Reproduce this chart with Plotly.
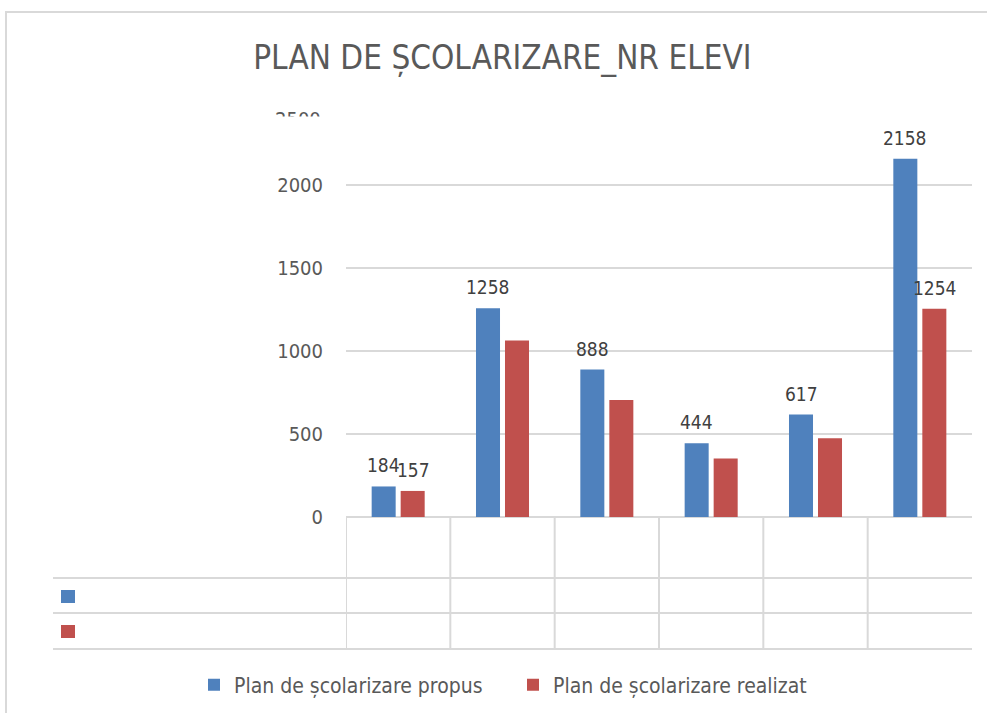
import plotly.graph_objects as go

# ---- data ----
categories = ["", "", "", "", "", ""]          # category names are blank in the original
propus = [184, 1258, 888, 444, 617, 2158]        # Plan de școlarizare propus
realizat = [157, 1064, 705, 352, 474, 1254]      # Plan de școlarizare realizat
realizat_labelled = [True, False, False, False, False, True]
y_ticks = [0, 500, 1000, 1500, 2000, 2500]
y_ticktext = ["0", "500", "1000", "1500", "2000", ""]

title_text = "PLAN DE ȘCOLARIZARE_NR ELEVI"
name_propus = "Plan de școlarizare propus"
name_realizat = "Plan de școlarizare realizat"

BLUE = "#4f81bd"
RED = "#c0504d"
GRID = "#d9d9d9"
TXT = "#595959"
LBL = "#404040"
FONT = "DejaVu Sans Condensed, Liberation Sans Narrow, sans-serif"

W, H = 987, 713
ML, MR, MT, MB = 346, 15, 102, 196
PW = W - ML - MR
PH = H - MT - MB


def px_x(px):
    return (px - ML) / PW


def px_y(py):
    return (H - MB - py) / PH


idx = list(range(len(categories)))

fig = go.Figure()
fig.add_trace(go.Bar(x=idx, y=propus, name=name_propus, legend="legend",
                     marker=dict(color=BLUE, line=dict(width=0))))
fig.add_trace(go.Bar(x=idx, y=realizat, name=name_realizat, legend="legend2",
                     marker=dict(color=RED, line=dict(width=0))))

annotations = []
half_slot = 14.5
for i, v in zip(idx, propus):
    annotations.append(dict(x=i, y=v, xref="x", yref="y", text=str(v), showarrow=False,
                            xshift=-half_slot, yshift=8, yanchor="bottom", xanchor="center",
                            font=dict(family=FONT, size=19, color=LBL)))
for i, v, lab in zip(idx, realizat, realizat_labelled):
    if lab:
        annotations.append(dict(x=i, y=v, xref="x", yref="y", text=str(v), showarrow=False,
                                xshift=half_slot + 1, yshift=8, yanchor="bottom", xanchor="center",
                                font=dict(family=FONT, size=19, color=LBL)))

# clipped top tick label "2500"
annotations.append(dict(x=px_x(323), y=y_ticks[-1], xref="paper", yref="y", text="2500",
                        showarrow=False, xanchor="right", yanchor="middle", yshift=-17,
                        font=dict(family=FONT, size=20, color=TXT)))
annotations.append(dict(x=px_x(340), y=px_y(116), xref="paper", yref="paper", text=" ",
                        showarrow=False, xanchor="right", yanchor="top", bgcolor="white",
                        width=80, height=22, borderpad=0))

shapes = []
# outer chart border (top and left visible)
shapes.append(dict(type="rect", xref="paper", yref="paper", x0=px_x(6), x1=px_x(1000),
                   y0=px_y(740), y1=px_y(12), line=dict(color=GRID, width=2), layer="below"))
# data table: vertical lines at category boundaries
for i in idx:
    shapes.append(dict(type="line", xref="x", yref="paper", x0=i - 0.5, x1=i - 0.5,
                       y0=0, y1=px_y(649), line=dict(color=GRID, width=2)))
# data table: horizontal row lines
for py in (578, 613, 649):
    shapes.append(dict(type="line", xref="paper", yref="paper", x0=px_x(53), x1=1,
                       y0=px_y(py), y1=px_y(py), line=dict(color=GRID, width=2)))
# legend keys in the table
for color, (ya, yb) in ((BLUE, (590, 603)), (RED, (625, 638))):
    shapes.append(dict(type="rect", xref="paper", yref="paper", x0=px_x(61), x1=px_x(75),
                       y0=px_y(yb), y1=px_y(ya), fillcolor=color, line=dict(width=0)))

legend_common = dict(orientation="h", xref="container", yref="container", xanchor="left",
                     y=1 - 685 / H, yanchor="middle",
                     font=dict(family=FONT, size=21, color=TXT), bgcolor="rgba(0,0,0,0)")

fig.update_layout(
    width=W, height=H,
    margin=dict(l=ML, r=MR, t=MT, b=MB),
    paper_bgcolor="white", plot_bgcolor="white",
    title=dict(text=title_text, x=0.509, xref="container", xanchor="center",
               y=1 - 57 / H, yref="container", yanchor="middle",
               font=dict(family=FONT, size=33, color=TXT)),
    barmode="group", bargap=0.444, bargroupgap=0.172,
    showlegend=True,
    legend=dict(x=194 / W, **legend_common),
    legend2=dict(x=513 / W, **legend_common),
    xaxis=dict(range=[-0.5, len(categories) - 0.5], tickvals=idx, ticktext=categories,
               showticklabels=False, showgrid=False, zeroline=False, showline=False, ticks=""),
    yaxis=dict(range=[0, 2500], tickvals=y_ticks, ticktext=y_ticktext, showgrid=True,
               gridcolor=GRID, gridwidth=2, zeroline=True, zerolinecolor=GRID, zerolinewidth=2,
               showline=False, ticks="", ticklabelstandoff=22,
               tickfont=dict(family=FONT, size=20, color=TXT)),
    annotations=annotations,
    shapes=shapes,
)

fig.write_html("out.html", config={"displayModeBar": False},
               post_script="document.body.style.margin='0';")
